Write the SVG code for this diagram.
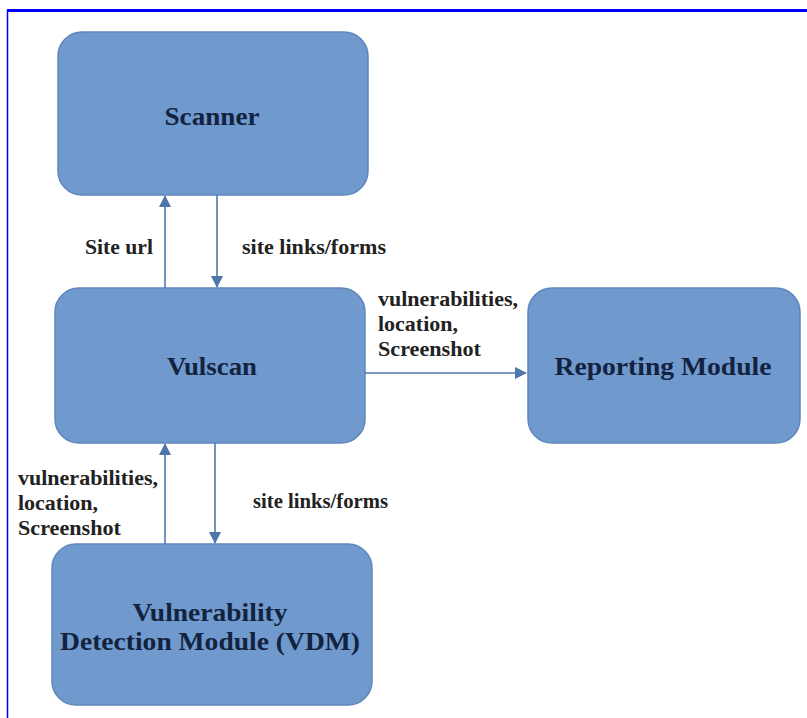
<svg xmlns="http://www.w3.org/2000/svg" width="807" height="718" viewBox="0 0 807 718">
<defs>
<style>
.box{fill:#7099cd;stroke:#5f87bb;stroke-width:1.5}
.nl{font-family:"Liberation Serif",serif;font-weight:bold;font-size:26px;fill:#13233f;text-anchor:middle}
.el{font-family:"Liberation Serif",serif;font-weight:bold;font-size:20px;fill:#222}
.con{stroke:#4f78aa;stroke-width:1.6;fill:none}
</style>
<marker id="ah" viewBox="0 0 12 12" refX="11" refY="6" markerWidth="12" markerHeight="12" markerUnits="userSpaceOnUse" orient="auto">
<path d="M0,0 L12,6 L0,12 z" fill="#4f78aa"/>
</marker>
</defs>
<rect width="807" height="718" fill="#ffffff"/>
<line x1="7" y1="10.5" x2="807" y2="10.5" stroke="#0000ff" stroke-width="3"/>
<line x1="7.5" y1="10" x2="7.5" y2="718" stroke="#0000ff" stroke-width="1.5"/>
<g id="scanner">
<rect class="box" x="58" y="32" width="310" height="163" rx="24"/>
<text class="nl" x="212" y="125" textLength="95" lengthAdjust="spacingAndGlyphs">Scanner</text>
</g>
<g id="vulscan">
<rect class="box" x="55" y="288" width="310" height="155" rx="24"/>
<text class="nl" x="212" y="375" textLength="90" lengthAdjust="spacingAndGlyphs">Vulscan</text>
</g>
<g id="reporting">
<rect class="box" x="528" y="288" width="272" height="155" rx="24"/>
<text class="nl" x="663" y="375" textLength="217" lengthAdjust="spacingAndGlyphs">Reporting Module</text>
</g>
<g id="vdm">
<rect class="box" x="52" y="544" width="320" height="161" rx="24"/>
<text class="nl" x="210" y="621" textLength="155" lengthAdjust="spacingAndGlyphs">Vulnerability</text>
<text class="nl" x="210" y="650" textLength="300" lengthAdjust="spacingAndGlyphs">Detection Module (VDM)</text>
</g>
<g id="connectors">
<line class="con" x1="165" y1="288" x2="165" y2="196" marker-end="url(#ah)"/>
<line class="con" x1="217" y1="195" x2="217" y2="287" marker-end="url(#ah)"/>
<line class="con" x1="365" y1="373" x2="526" y2="373" marker-end="url(#ah)"/>
<line class="con" x1="165" y1="544" x2="165" y2="444" marker-end="url(#ah)"/>
<line class="con" x1="215" y1="443" x2="215" y2="543" marker-end="url(#ah)"/>
<text class="el" x="85" y="254" textLength="68" lengthAdjust="spacingAndGlyphs">Site url</text>
<text class="el" x="242" y="254" textLength="144" lengthAdjust="spacingAndGlyphs">site links/forms</text>
<text class="el" x="378" y="306" textLength="140" lengthAdjust="spacingAndGlyphs">vulnerabilities,</text>
<text class="el" x="378" y="331" textLength="80" lengthAdjust="spacingAndGlyphs">location,</text>
<text class="el" x="378" y="356" textLength="103" lengthAdjust="spacingAndGlyphs">Screenshot</text>
<text class="el" x="18" y="485" textLength="140" lengthAdjust="spacingAndGlyphs">vulnerabilities,</text>
<text class="el" x="18" y="510" textLength="80" lengthAdjust="spacingAndGlyphs">location,</text>
<text class="el" x="18" y="535" textLength="103" lengthAdjust="spacingAndGlyphs">Screenshot</text>
<text class="el" x="253" y="508" textLength="135" lengthAdjust="spacingAndGlyphs">site links/forms</text>
</g>
</svg>
